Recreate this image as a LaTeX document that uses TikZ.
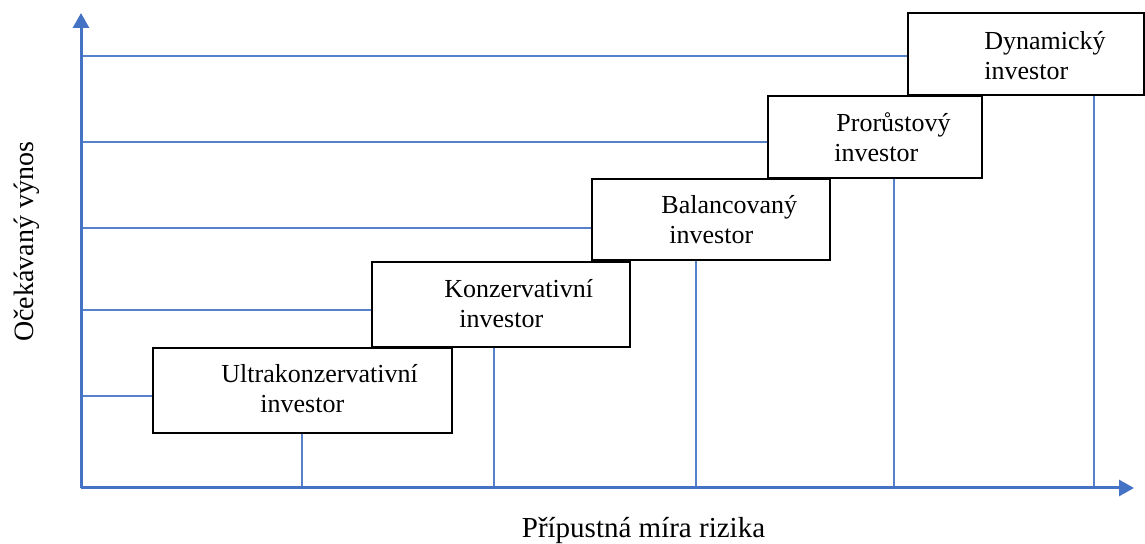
\documentclass[tikz,border=0pt]{standalone}
\usepackage{fontspec}
\setmainfont{Liberation Serif}
\usetikzlibrary{arrows.meta}
\definecolor{wordblue}{RGB}{68,114,196}
\tikzset{axis/.style={line width=1.5pt,color=wordblue,-{Triangle[length=7.5pt,width=8pt]}}}
\tikzset{gridline/.style={line width=0.7pt,color=wordblue!90}}
\tikzset{box/.style={draw=black,line width=1.1pt,fill=white,inner sep=0pt},
		 lbl/.style={font=\fontsize{13}{15.3}\selectfont,align=left,inner sep=0pt}}

\begin{document}
\begin{tikzpicture}[x=0.5pt,y=-0.5pt]
	\useasboundingbox (0,0) rectangle (1145,544);
	\coordinate (o) at (81,488);
	\coordinate (ytop) at (81,13);
	\coordinate (xend) at (1134,488);
	% boxes
	\node[box,minimum width=149.5pt,minimum height=42.5pt] (ultra) at (302.5,390.5) {};
	\node[box,minimum width=129pt,minimum height=42.5pt] (konz) at (501,304.5) {};
	\node[box,minimum width=119pt,minimum height=40.5pt] (bal) at (711,219.5) {};
	\node[box,minimum width=107pt,minimum height=41pt] (pror) at (875,137) {};
	\node[box,minimum width=118pt,minimum height=41pt] (dyn) at (1026,54) {};
	% base = last line
	\node[lbl,anchor=base west] (ultratxt) at (221,413) {Ultrakonzervativní\\\hspace*{19.5pt}investor};
	\node[lbl,anchor=base west] (konztxt) at (444,328) {Konzervativní\\\hspace*{7.5pt}investor};
	\node[lbl,anchor=base west] (baltxt) at (661,244) {Balancovaný\\\hspace*{4pt}investor};
	\node[lbl,anchor=base west] (prortxt) at (834,162) {\hspace*{1pt}Prorůstový\\investor};
	\node[lbl,anchor=base west] (dyntxt) at (984,80) {Dynamický\\investor};
	% lines to the axes
	\foreach \n/\y/\x in {ultra/396/302,konz/310/494,bal/228/696,pror/142/894,dyn/56/1094}{
		\draw[gridline] (o |- 0,\y) -- (\n.west |- 0,\y);
		\draw[gridline] (o -| \x,0) -- (\n.south -| \x,0);
	}
	\draw[axis] (o) -- (ytop);
	\draw[axis] (o) -- (xend);
	\node[font=\fontsize{14.5}{17}\selectfont,anchor=base] (xlab) at (643.5,538) {Přípustná míra rizika};
	\node[font=\fontsize{14}{17}\selectfont,rotate=90,anchor=base] (ylab) at (33,242) {Očekávaný výnos};
\end{tikzpicture}
\end{document}
